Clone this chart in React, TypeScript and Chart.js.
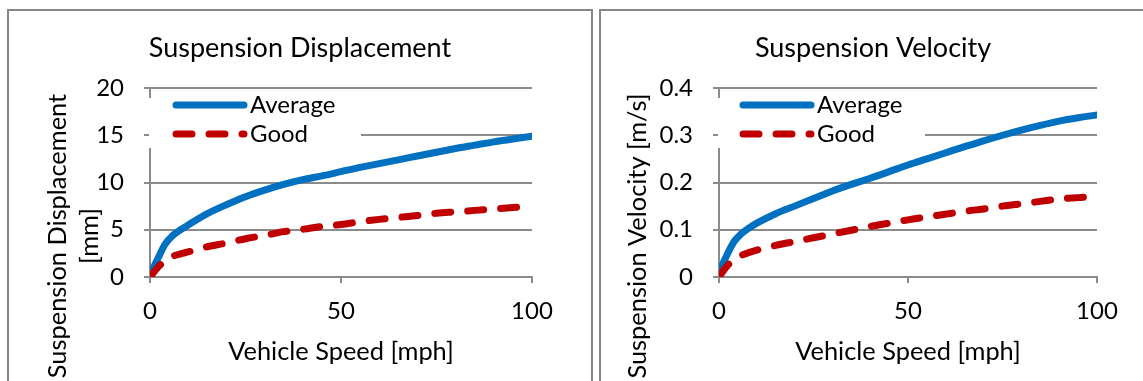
import React, { useEffect, useRef } from 'react';
import { Chart, registerables } from 'chart.js';

Chart.register(...registerables);

// ---------- data ----------
const speeds = [0, 2, 4, 6, 8, 10, 15, 20, 25, 30, 35, 40, 45, 50, 55, 60, 65, 70, 75, 80, 85, 90, 95, 100];

const dispAverage = [0.3, 1.9, 3.5, 4.4, 5.0, 5.5, 6.7, 7.65, 8.5, 9.2, 9.8, 10.3, 10.7, 11.15, 11.6, 12.0, 12.4, 12.8, 13.2, 13.6, 13.95, 14.3, 14.6, 14.9];
const dispGood = [0, 1.0, 1.7, 2.2, 2.45, 2.65, 3.2, 3.6, 4.05, 4.4, 4.8, 5.05, 5.35, 5.55, 5.85, 6.1, 6.3, 6.5, 6.75, 6.9, 7.05, 7.2, 7.35, 7.5];

const velAverage = [0.01, 0.045, 0.075, 0.092, 0.104, 0.114, 0.134, 0.15, 0.166, 0.182, 0.196, 0.209, 0.223, 0.237, 0.25, 0.263, 0.276, 0.288, 0.3, 0.311, 0.321, 0.33, 0.337, 0.343];
const velGood = [0, 0.022, 0.037, 0.046, 0.052, 0.057, 0.067, 0.075, 0.083, 0.091, 0.099, 0.107, 0.114, 0.121, 0.127, 0.133, 0.139, 0.144, 0.15, 0.155, 0.16, 0.165, 0.168, 0.171];

const speedTicks = [0, 50, 100];
const dispTicks = [0, 5, 10, 15, 20];
const velTicks = [0, 0.1, 0.2, 0.3, 0.4];

const seriesNames = ['Average', 'Good'];

// ---------- styles ----------
const FONT = 'Lato, "Open Sans", sans-serif';
const GRID = '#8b8b8b';
const BLUE = '#0070C0';
const RED = '#C00000';
const AXIS_TITLE_SIZE = 25.4;

const insideLegend = {
  id: 'insideLegend',
  afterDatasetsDraw(chart: any, _args: any, opts: any) {
    const { ctx, chartArea: a } = chart;
    ctx.save();
    ctx.fillStyle = '#ffffff';
    ctx.fillRect(a.left - 1, a.top + opts.boxTop, opts.boxWidth, opts.boxHeight);
    chart.data.datasets.forEach((ds: any, i: number) => {
      const y = a.top + opts.firstRow + i * opts.rowGap;
      ctx.beginPath();
      ctx.lineWidth = ds.borderWidth;
      ctx.strokeStyle = ds.borderColor;
      ctx.lineCap = 'round';
      ctx.setLineDash(ds.borderDash || []);
      ctx.moveTo(a.left + opts.sampleStart, y);
      ctx.lineTo(a.left + opts.sampleEnd, y);
      ctx.stroke();
      ctx.setLineDash([]);
      ctx.fillStyle = '#000';
      ctx.font = `${opts.fontSize}px ${FONT}`;
      ctx.textAlign = 'left';
      ctx.textBaseline = 'middle';
      ctx.fillText(ds.label, a.left + opts.textX, y);
    });
    ctx.restore();
  },
};

const sideTitle = {
  id: 'sideTitle',
  afterDraw(chart: any, _args: any, opts: any) {
    const { ctx, chartArea: a } = chart;
    ctx.save();
    ctx.font = `${opts.fontSize}px ${FONT}`;
    ctx.fillStyle = '#000';
    ctx.textAlign = 'center';
    ctx.textBaseline = 'middle';
    opts.lines.forEach((t: string, i: number) => {
      ctx.save();
      ctx.translate(a.left + opts.offsets[i], a.bottom + opts.centerFromBottom);
      ctx.rotate(-Math.PI / 2);
      ctx.fillText(t, 0, 0);
      ctx.restore();
    });
    ctx.restore();
  },
};

function makeConfig(p: any) {
  const toPts = (vals: number[]) => speeds.map((s, i) => ({ x: s, y: vals[i] }));
  return {
    type: 'line',
    data: {
      datasets: [
        {
          label: seriesNames[0],
          data: toPts(p.avg),
          borderColor: BLUE,
          borderWidth: 7,
          pointRadius: 0,
          borderCapStyle: 'round',
          borderJoinStyle: 'round',
          cubicInterpolationMode: 'monotone',
          fill: false,
          order: 1,
        },
        {
          label: seriesNames[1],
          data: toPts(p.good),
          borderColor: RED,
          borderWidth: 7,
          borderDash: [16, 17],
          pointRadius: 0,
          borderCapStyle: 'round',
          borderJoinStyle: 'round',
          cubicInterpolationMode: 'monotone',
          fill: false,
          order: 0,
        },
      ],
    },
    options: {
      responsive: false,
      animation: false,
      devicePixelRatio: 1,
      layout: { padding: { left: p.padLeft, right: p.padRight, top: 0, bottom: 0 } },
      scales: {
        x: {
          type: 'linear',
          min: 0,
          max: 100,
          afterBuildTicks: (s: any) => { s.ticks = speedTicks.map((v) => ({ value: v })); },
          afterFit: (s: any) => { s.height = 114; },
          ticks: { font: { family: FONT, size: 24 }, color: '#000', padding: 14, maxRotation: 0, autoSkip: false },
          grid: { drawOnChartArea: false, drawTicks: true, tickLength: 6, color: GRID, lineWidth: 2 },
          border: { display: true, color: GRID, width: 2 },
          title: {
            display: true,
            text: 'Vehicle Speed [mph]',
            font: { family: FONT, size: AXIS_TITLE_SIZE },
            color: '#000',
            padding: { top: 0, bottom: 24 },
          },
        },
        y: {
          type: 'linear',
          min: 0,
          max: p.yMax,
          afterBuildTicks: (s: any) => { s.ticks = p.yTicks.map((v: number) => ({ value: v })); },
          afterFit: (s: any) => { s.width = p.yWidth; },
          ticks: { font: { family: FONT, size: 24 }, color: '#000', padding: 20 },
          grid: { color: GRID, lineWidth: 2, tickLength: 6, drawTicks: true },
          border: { display: true, color: GRID, width: 2 },
        },
      },
      plugins: {
        legend: { display: false },
        tooltip: { enabled: false },
        title: {
          display: true,
          text: p.title,
          font: { family: FONT, size: 27, weight: 'normal' },
          color: '#000',
          padding: { top: 21, bottom: 23.6 },
        },
        insideLegend: {
          boxTop: 10,
          boxHeight: 50,
          boxWidth: p.legendBoxWidth,
          firstRow: 17,
          rowGap: 29,
          sampleStart: p.sampleStart,
          sampleEnd: p.sampleStart + 68,
          textX: p.sampleStart + 74,
          fontSize: 24,
        },
        sideTitle: {
          lines: p.yTitle,
          offsets: p.yTitleOffsets,
          centerFromBottom: -41,
          fontSize: AXIS_TITLE_SIZE,
        },
      },
    },
    plugins: [insideLegend, sideTitle],
  };
}

function ChartPanel(props: { left: number; width: number; config: any }) {
  const ref = useRef<HTMLCanvasElement | null>(null);
  useEffect(() => {
    if (!ref.current) return;
    const chart = new Chart(ref.current, props.config);
    return () => chart.destroy();
  }, []);
  return (
    <div
      style={{
        position: 'absolute',
        left: props.left,
        top: 9,
        width: props.width,
        height: 380,
        border: '2px solid #878787',
        background: '#fff',
      }}
    >
      <canvas ref={ref} width={props.width} height={380} style={{ display: 'block' }} />
    </div>
  );
}

const leftConfig = makeConfig({
  title: 'Suspension Displacement',
  avg: dispAverage,
  good: dispGood,
  yMax: 20,
  yTicks: dispTicks,
  padLeft: 59,
  padRight: 59,
  yWidth: 82,
  legendBoxWidth: 212,
  sampleStart: 26,
  yTitle: ['Suspension Displacement', '[mm]'],
  yTitleOffsets: [-92, -60],
});

const rightConfig = makeConfig({
  title: 'Suspension Velocity',
  avg: velAverage,
  good: velGood,
  yMax: 0.4,
  yTicks: velTicks,
  padLeft: 48,
  padRight: 53,
  yWidth: 70,
  legendBoxWidth: 207,
  sampleStart: 24,
  yTitle: ['Suspension Velocity [m/s]'],
  yTitleOffsets: [-81],
});

export default function App() {
  return (
    <div
      style={{
        position: 'absolute',
        left: 0,
        top: 0,
        width: 1143,
        height: 381,
        overflow: 'hidden',
        background: '#fff',
      }}
    >
      <ChartPanel left={7} width={582} config={leftConfig} />
      <ChartPanel left={599} width={549} config={rightConfig} />
    </div>
  );
}
